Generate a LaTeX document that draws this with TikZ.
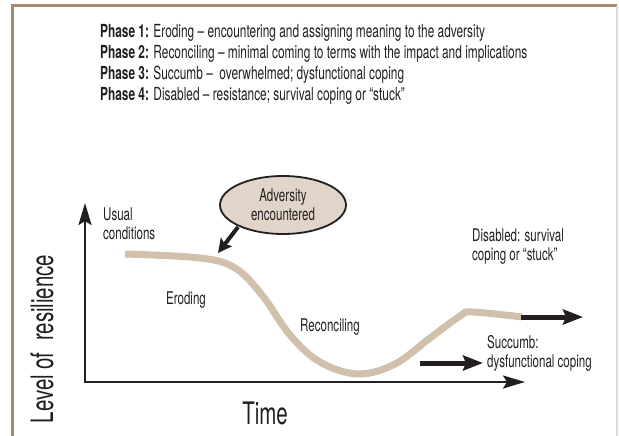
\documentclass[tikz,border=0pt]{standalone}
\usepackage{fontspec}
\setmainfont{TeX Gyre Heros}
\newfontfamily\cond[FakeStretch=0.66,Ligatures=TeX]{TeX Gyre Heros}
\usetikzlibrary{arrows.meta,shapes.geometric}
\definecolor{framebrown}{RGB}{168,138,105}
\definecolor{framegray}{RGB}{222,218,214}
\definecolor{curvetan}{RGB}{208,192,172}
\definecolor{ellfill}{RGB}{224,213,200}
\definecolor{txt}{RGB}{35,31,32}
\begin{document}
\begin{tikzpicture}[x=1pt,y=-1pt,
  small/.style={font=\cond\fontsize{17.5}{19}\selectfont, text=txt, inner sep=0pt},
  phase/.style={font=\cond\fontsize{18}{19}\selectfont, text=txt, inner sep=0pt, anchor=west},
  lbl/.style={small, anchor=west, align=left},
  big/.style={font=\cond\fontsize{31}{32}\selectfont, text=txt, inner sep=0pt},
  axis/.style={line width=2.5pt, draw=txt, -{Stealth[length=22pt,width=13pt,inset=4pt]}},
  fatarrow/.style={line width=5pt, draw=txt, -{Stealth[length=20pt,width=15pt,inset=3pt]}},
  advarrow/.style={line width=4pt, draw=txt, -{Stealth[length=14pt,width=14pt,inset=3pt]}},
  resil/.style={line width=7pt, draw=curvetan, line cap=butt}]
\fill[white] (0,0) rectangle (619,436);
\useasboundingbox (0,0) rectangle (619,436);
% frame
\draw[framebrown, line width=2.5pt] (12.7,436) -- (12.7,5.7) -- (617,5.7);
\draw[framegray, line width=1.5pt] (617,5.7) -- (617,436);
% phases
\node[phase] (p1) at (100,33) {\textbf{Phase 1:} Eroding – encountering and assigning meaning to the adversity};
\node[phase] (p2) at (100,54) {\textbf{Phase 2:} Reconciling – minimal coming to terms with the impact and implications};
\node[phase] (p3) at (100,75) {\textbf{Phase 3:} Succumb –\ \ overwhelmed; dysfunctional coping};
\node[phase] (p4) at (100,96) {\textbf{Phase 4:} Disabled – resistance; survival coping or “stuck”};
% axes
\coordinate (origin) at (85,382);
\coordinate (ytip) at (85,203);
\coordinate (xtip) at (525,382);
\draw[axis] ([yshift=1.25pt]origin) -- (ytip);
\draw[axis] ([xshift=-1.25pt]origin) -- (xtip);
% resilience curve
\draw[resil] plot[smooth, tension=0.6] coordinates {(125,254) (200,258) (235,268) (262,295) (290,335) (320,362) (358,374) (395,364) (430,338) (460,316) (472,312) (522,317)};
\coordinate (flatend) at (521,317);
\coordinate (disabledtip) at (583,317);
\draw[fatarrow] (flatend) -- (disabledtip);
\coordinate (succtail) at (420,363);
\coordinate (succtip) at (483,363);
\draw[fatarrow] (succtail) -- (succtip);
% adversity
\coordinate (advtail) at (238,227);
\coordinate (advtip) at (218,253);
\draw[advarrow] (advtail) -- (advtip);
\node[ellipse, draw=txt, line width=1.8pt, fill=ellfill, minimum width=126pt, minimum height=58pt, inner sep=0pt, align=center, small] (adv) at (283,205) {Adversity\\encountered};
% labels
\node[lbl] (usual) at (103,223.5) {Usual\\conditions};
\node[small] (eroding) at (186,300) {Eroding};
\node[small] (reconciling) at (330,327) {Reconciling};
\node[lbl] (disabled) at (472,246.5) {Disabled: survival\\coping or “stuck”};
\node[lbl] (succumb) at (487,353.5) {Succumb:\\dysfunctional coping};
\node[big, rotate=90] (level) at (42,339) {Level of\ \ resilience};
\node[big] (time) at (265,413) {Time};
\end{tikzpicture}
\end{document}
